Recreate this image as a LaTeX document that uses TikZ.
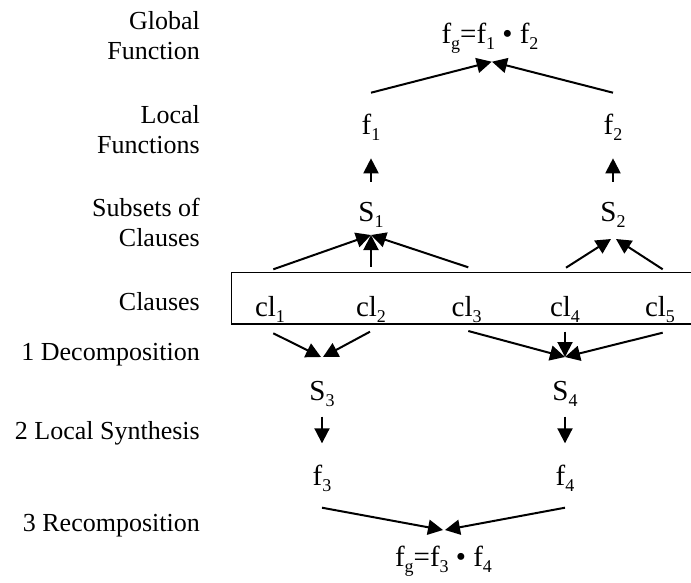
\documentclass[tikz,border=0pt]{standalone}
\usepackage{fontspec}
\setmainfont{Liberation Serif}
\usetikzlibrary{arrows.meta,calc}

% lowered, smaller index
\newcommand{\lowsub}[1]{\raisebox{-6pt}{\fontsize{18}{18}\selectfont #1}}

\begin{document}
\begin{tikzpicture}[x=1pt,y=-1pt,
    lbl/.style={anchor=base east,align=right,inner sep=0pt,
        font=\fontsize{26}{30}\selectfont},
    txt/.style={anchor=base,inner sep=0pt,font=\fontsize{29}{34}\selectfont},
    arr/.style={-{Triangle[length=15pt,width=15pt]},line width=2pt}]

    \useasboundingbox (0,0) rectangle (691,582);

    % Level labels (base = last line)
    \node[lbl] (lglob) at (200,59) {Global\\Function};
    \node[lbl] (lloc) at (200,153.3) {Local\\Functions};
    \node[lbl] (lsub) at (200,246.7) {Subsets of\\Clauses};
    \node[lbl] (lcla) at (200,310.7) {Clauses};
    \node[lbl] (ldec) at (200,360.7) {1 Decomposition};
    \node[lbl] (lsyn) at (200,439.3) {2 Local Synthesis};
    \node[lbl] (lrec) at (200,531.7) {3 Recomposition};

    % Upper half
    \node[txt] (fg12) at (490,43.3) {f\lowsub{g}=f\lowsub{1} \textbullet{} f\lowsub{2}};
    \node[txt] (f1) at (371,134) {f\lowsub{1}};
    \node[txt] (f2) at (613,134) {f\lowsub{2}};
    \node[txt] (s1) at (371,221) {S\lowsub{1}};
    \node[txt] (s2) at (613,221) {S\lowsub{2}};

    % Clauses in a box
    \node[txt] (cl1) at (270,316) {cl\lowsub{1}};
    \node[txt] (cl2) at (371,316) {cl\lowsub{2}};
    \node[txt] (cl3) at (466.7,316) {cl\lowsub{3}};
    \node[txt] (cl4) at (565,316) {cl\lowsub{4}};
    \node[txt] (cl5) at (660,316) {cl\lowsub{5}};
    \draw[line width=1.2pt] (692,272.5) -| (231.7,324) -- (692,324);

    % Lower half
    \node[txt] (s3) at (322,400) {S\lowsub{3}};
    \node[txt] (s4) at (565,400) {S\lowsub{4}};
    \node[txt] (f3) at (322,485) {f\lowsub{3}};
    \node[txt] (f4) at (565,485) {f\lowsub{4}};
    \node[txt] (fg34) at (443.5,566.7) {f\lowsub{g}=f\lowsub{3} \textbullet{} f\lowsub{4}};

    % Arrows up
    \draw[arr] ($(f1.base)+(0,-41.3)$) -- ($(fg12.base)+(1.7,18.4)$);
    \draw[arr] ($(f2.base)+(0,-41.3)$) -- ($(fg12.base)+(2,18.4)$);
    \draw[arr] ($(s1.base)+(0,-39.3)$) -- ($(f1.base)+(0,24.3)$);
    \draw[arr] ($(s2.base)+(0,-39.3)$) -- ($(f2.base)+(0,24.3)$);
    \draw[arr] ($(cl1.base)+(3.3,-46.7)$) -- ($(s1.base)+(0,14)$);
    \draw[arr] ($(cl2.base)+(0,-49.3)$) -- ($(s1.base)+(0,14)$);
    \draw[arr] ($(cl3.base)+(1.6,-48.7)$) -- ($(s1.base)+(0,14)$);
    \draw[arr] ($(cl4.base)+(1,-48.3)$) -- ($(s2.base)+(-2,18)$);
    \draw[arr] ($(cl5.base)+(2.7,-46.7)$) -- ($(s2.base)+(3,18)$);

    % Arrows down
    \draw[arr] ($(cl1.base)+(3.3,17.3)$) -- ($(s3.base)+(-1,-43)$);
    \draw[arr] ($(cl2.base)+(-1,15.7)$) -- ($(s3.base)+(1,-43)$);
    \draw[arr] ($(cl3.base)+(1.6,15)$) -- ($(s4.base)+(0,-43)$);
    \draw[arr] ($(cl4.base)+(0,15.7)$) -- ($(s4.base)+(0,-43)$);
    \draw[arr] ($(cl5.base)+(2.7,16.7)$) -- ($(s4.base)+(0,-43)$);
    \draw[arr] ($(s3.base)+(0,16.7)$) -- ($(f3.base)+(0,-41.7)$);
    \draw[arr] ($(s4.base)+(0,16.7)$) -- ($(f4.base)+(0,-41.7)$);
    \draw[arr] ($(f3.base)+(0,22.7)$) -- ($(fg34.base)+(-0.5,-36.7)$);
    \draw[arr] ($(f4.base)+(0,22.7)$) -- ($(fg34.base)+(1.5,-36.7)$);

\end{tikzpicture}
\end{document}
